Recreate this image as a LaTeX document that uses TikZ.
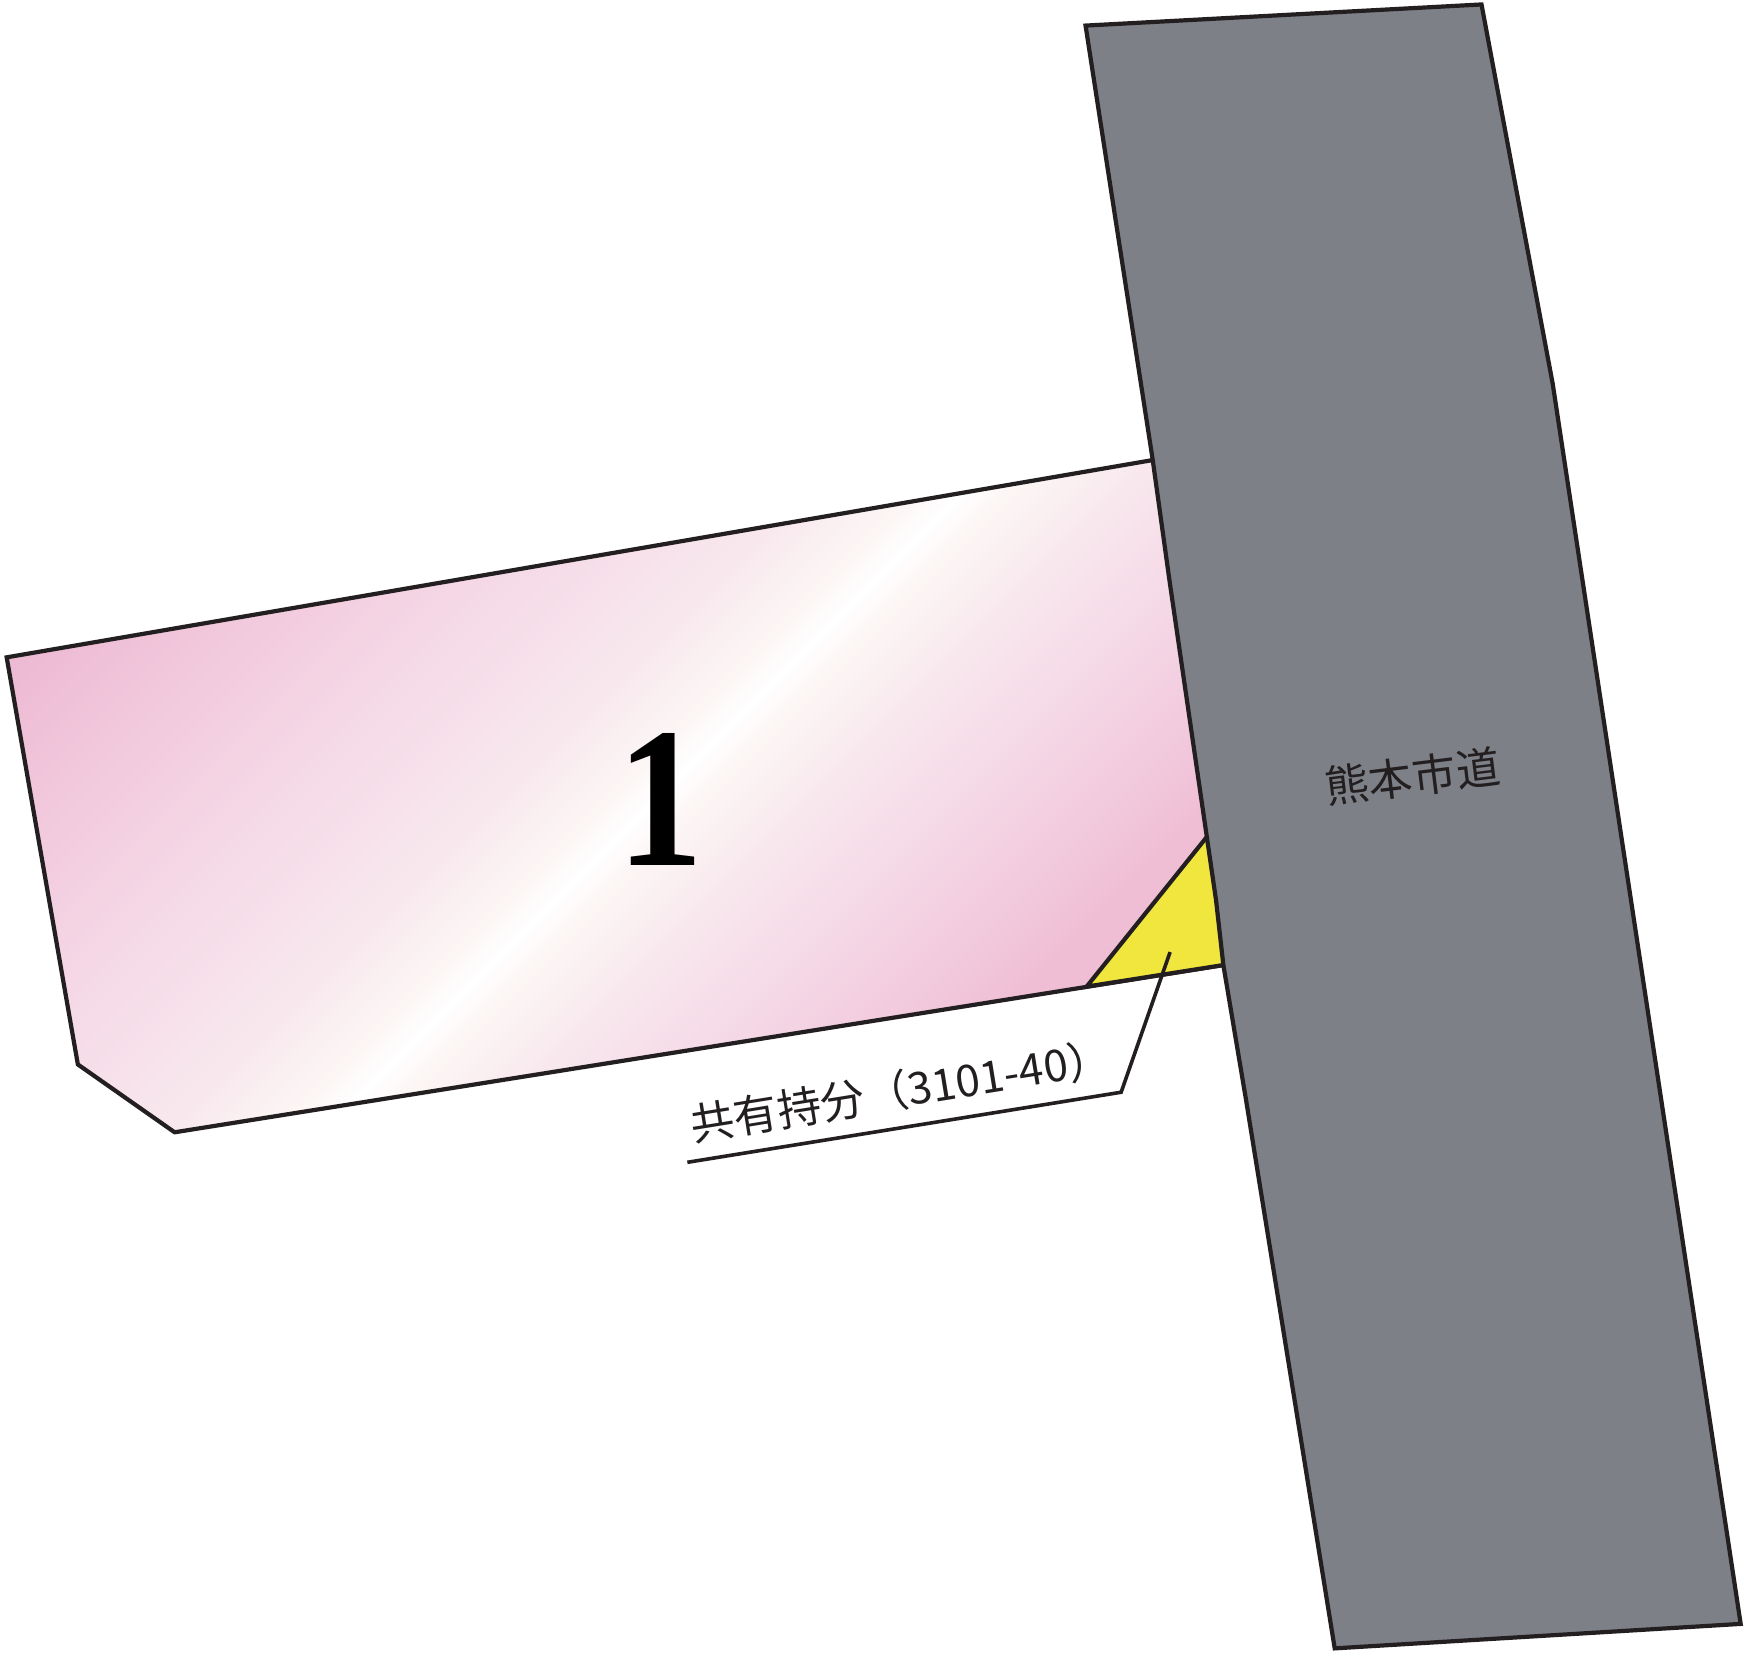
\documentclass[tikz,border=0pt]{standalone}
\usepackage{fontspec}
\setmainfont{Liberation Serif}
\newfontfamily\cjkfont{Noto Sans CJK JP}
\definecolor{inkc}{HTML}{231F20}
\definecolor{roadc}{HTML}{7E8087}
\definecolor{yelc}{HTML}{F0E63E}
\definecolor{pkA}{HTML}{EDB9D3}
\definecolor{pkB}{HTML}{F2CADD}
\definecolor{pkC}{HTML}{F5D8E6}
\definecolor{pkD}{HTML}{F8E8EE}
\definecolor{pkE}{HTML}{FCF6F5}
\definecolor{pkF}{HTML}{EFBDD4}
\pgfdeclarehorizontalshading{pinkbar}{900pt}{%
color(0pt)=(pkA);color(85pt)=(pkA);color(156pt)=(pkB);color(222.5pt)=(pkC);color(306pt)=(pkD);color(345pt)=(pkE);color(361.5pt)=(white);color(378pt)=(pkE);color(417pt)=(pkD);color(472.7pt)=(pkC);color(523pt)=(pkB);color(562pt)=(pkF);color(723pt)=(pkF)}
\tikzset{
  outline/.style={draw=inkc,line width=2.1pt,miter limit=10,line join=miter},
  leaderline/.style={draw=inkc,line width=1.8pt,line join=miter},
  cjklabel/.style={text=inkc,inner sep=0pt,font=\cjkfont\fontsize{22}{22}\selectfont},
}
\begin{document}
\begin{tikzpicture}[x=0.5561pt,y=-0.5561pt]
\useasboundingbox (0,0) rectangle (1568,1488);
\fill[white] (0,0) rectangle (1568,1488);
% plot 1
\begin{scope}
  \clip (6,591) -- (1045,414) -- (1110,868) -- (157,1018) -- (70,957) -- cycle;
  \node[rotate=-45,inner sep=0pt] (sheen) at (654,654) {\pgfuseshading{pinkbar}};
\end{scope}
\draw[outline] (1040,413) -- (6,591) -- (70,957) -- (157,1018) -- (1104,867);
% shared part
\draw[outline,fill=yelc] (1087,750) -- (977,887) -- (1104,867) -- cycle;
% road
\draw[outline,fill=roadc] (976,23) -- (1332,4) -- (1396,345) -- (1565,1460) -- (1200,1482) -- (1149.4,1168.8) -- (1120.3,989) -- (1099.9,867.7) -- (1093.3,809.2) -- (1051.4,521.5) -- (1036.4,413.6) -- cycle;
% labels
\node[font=\bfseries\fontsize{100}{100}\selectfont,text=black,inner sep=0pt,xscale=0.86] (plotnum) at (593.5,719) {1};
\node[cjklabel,rotate=7] (roadname) at (1270,698) {熊本市道};
\node[cjklabel,rotate=9.2,anchor=base west] (share) at (623,1026) {共有持分（3101-40）};
% leader
\coordinate (tip) at (1052,856);
\coordinate (elbow) at (1008,982);
\coordinate (tail) at (618,1045);
\draw[leaderline] (tip) -- (elbow) -- (tail);
\end{tikzpicture}
\end{document}
